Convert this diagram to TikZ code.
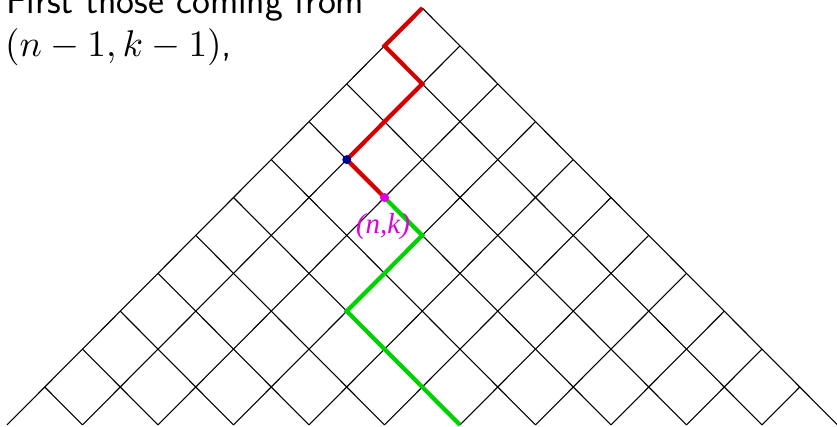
\documentclass[tikz,border=0pt]{standalone}
\usepackage{graphicx}
\usepackage{fontspec}
\newfontfamily\labfont{Liberation Serif}
\definecolor{pathred}{RGB}{210,0,0}
\definecolor{pathgreen}{RGB}{0,210,0}
\definecolor{dotnavy}{RGB}{0,0,140}
\definecolor{dotmag}{RGB}{220,0,220}
\tikzset{
  gridline/.style={draw=black, line width=1.1pt},
  redpath/.style={draw=pathred, line width=4.2pt},
  greenpath/.style={draw=pathgreen, line width=4.2pt},
  dotstyle/.style={circle, inner sep=0pt, minimum size=9pt},
}
\begin{document}
\begin{tikzpicture}[x=1pt,y=-1pt]
\useasboundingbox (0,0) rectangle (837,427);
% lattice points
\foreach \n in {0,...,11}{
  \foreach \k in {0,...,\n}{
    \coordinate (p-\n-\k) at ({422.25+(2*\k-\n)*37.75},{8+\n*37.9});
  }
}
% grid
\foreach \n in {0,...,10}{
  \pgfmathtruncatemacro{\nn}{\n+1}
  \foreach \k in {0,...,\n}{
    \pgfmathtruncatemacro{\kk}{\k+1}
    \draw[gridline] (p-\n-\k) -- (p-\nn-\k);
    \draw[gridline] (p-\n-\k) -- (p-\nn-\kk);
  }
}
% paths
\draw[redpath] (p-0-0) -- (p-1-0) -- (p-2-1) -- (p-4-1) -- (p-5-2);
\draw[greenpath] (p-5-2) -- (p-6-3) -- (p-8-3) -- (p-11-6);
% dots
\node[dotstyle, fill=dotnavy] (dn) at (p-4-1) {};
\node[dotstyle, fill=dotmag] (dm) at (p-5-2) {};
% label
\node[text=dotmag, inner sep=0pt] (lab) at (383,226.5) {\labfont\itshape\fontsize{29}{32}\selectfont (n,k)};
% text
\node[anchor=base west, inner sep=0pt] (t1) at (6,13.5) {\sffamily\fontsize{38}{44}\selectfont First those coming from};
\node[anchor=base west, inner sep=0pt] (t2) at (5,57) {\scalebox{3.72}{\sffamily\fontsize{10}{12}\selectfont $(n-1,k-1)$,}};
\end{tikzpicture}
\end{document}
